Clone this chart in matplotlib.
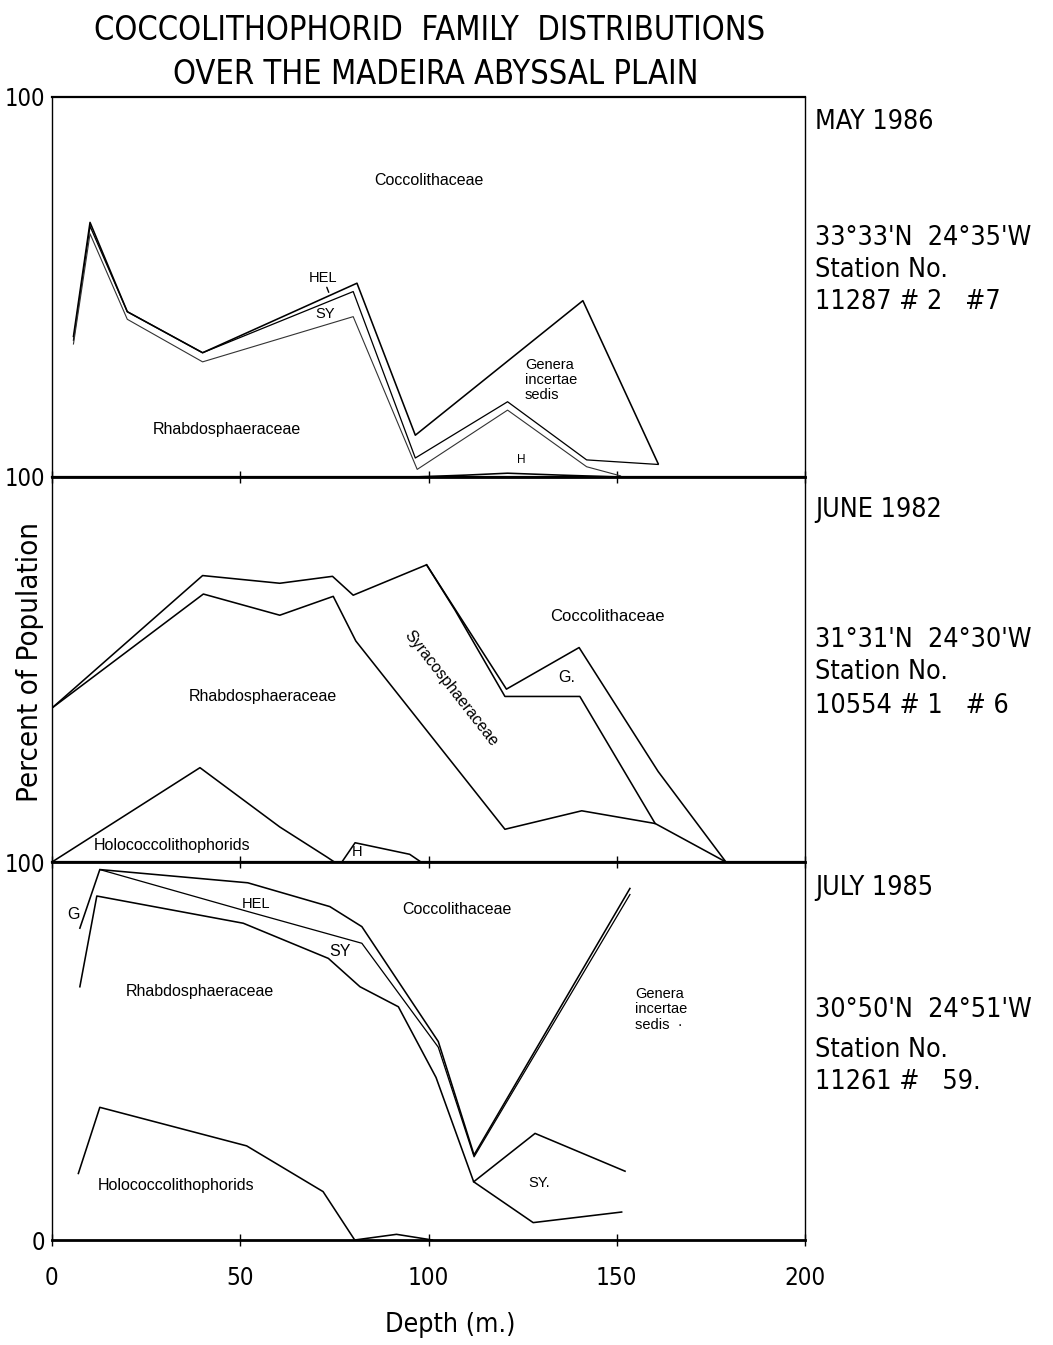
import matplotlib
matplotlib.use("Agg")
import matplotlib.pyplot as plt
from matplotlib import font_manager
from matplotlib.font_manager import FontProperties

# ---------------- data (depth in m, cumulative percent boundaries) ----------------
# Panel 1: May 1986
may_top_x = [5.7, 10.1, 20, 40, 81, 96.5, 141, 161]
may_top_y = [37, 67, 43.5, 32.7, 51, 11, 46.4, 3.5]
may_hel_x = [5.7, 10.1, 20, 40, 80, 96.5, 121, 142, 161]
may_hel_y = [36, 66, 43.5, 32.7, 48.8, 5, 19.8, 4.5, 3.3]
may_sy_x = [5.7, 10.1, 20, 40, 80, 97, 121, 142, 151]
may_sy_y = [35, 64, 41.5, 30.3, 42.2, 2, 17.6, 2.7, 0.3]
may_h_x = [96, 110, 121, 135, 151]
may_h_y = [0, 0.5, 1.0, 0.5, 0]

# Panel 2: June 1982
jun_top_x = [0, 40, 60.5, 74.5, 80, 99.5, 120.7, 140, 161, 179]
jun_top_y = [40, 74.4, 72.4, 74.2, 69.3, 77.2, 44.9, 55.7, 23.5, 0]
jun_g_x = [99.5, 107, 120.3, 140.2, 160.2]
jun_g_y = [77.2, 65.5, 43, 43, 10]
jun_sya_x = [0, 40.2, 60.5, 74.7, 80.7, 120.3, 140.7, 160.2, 179]
jun_sya_y = [40, 69.6, 64.1, 69, 57.4, 8.5, 13.3, 10, 0]
jun_holo_x = [0, 39.3, 60.5, 73, 75]
jun_holo_y = [0, 24.5, 9.1, 1.3, 0]
jun_h_x = [77, 80.5, 95, 98]
jun_h_y = [0, 5, 2, 0]

# Panel 3: July 1985
jul_top_x = [7.4, 12.7, 52, 73.8, 82.3, 102.6, 112.1, 153.5]
jul_top_y = [82.5, 98, 94.5, 88.2, 82.9, 52.5, 22.5, 93]
jul_hel_x = [12.7, 52, 82.3, 102.6, 112.1, 153.5]
jul_hel_y = [98, 86.9, 78.5, 51, 22, 91.4]
jul_sy_x = [7.4, 11.9, 50.8, 73.4, 81.8, 92, 102, 112, 128.3, 152.2]
jul_sy_y = [67, 91, 83.8, 74.5, 67, 61.7, 43, 15.4, 28.2, 18.2]
jul_sylow_x = [112, 127.8, 151.3]
jul_sylow_y = [15.4, 4.6, 7.4]
jul_holo_x = [7, 12.7, 51.7, 72, 80.4]
jul_holo_y = [17.6, 35.1, 24.9, 12.8, 0]
jul_h_x = [80.4, 91.5, 101]
jul_h_y = [0, 1.5, 0]

x_ticks = [0, 50, 100, 150, 200]

months = ["MAY 1986", "JUNE 1982", "JULY 1985"]
coords = ["33°33'N  24°35'W", "31°31'N  24°30'W", "30°50'N  24°51'W"]
stations = ["11287 # 2   #7", "10554 # 1   # 6", "11261 #   59."]

# ---------------- fonts ----------------
cond_path = None
for f in font_manager.fontManager.ttflist:
    st = str(f.stretch).lower()
    if f.style == "normal" and st in ("condensed", "semi-condensed") and \
            f.weight in (400, "normal", "regular", "book"):
        if f.name in ("DejaVu Sans", "Noto Sans", "Liberation Sans Narrow", "Open Sans", "Roboto"):
            cond_path = f.fname
            if f.name == "DejaVu Sans":
                break
if cond_path:
    def BIG(size):
        return FontProperties(fname=cond_path, size=size * 1.12)
else:
    def BIG(size):
        return FontProperties(family="DejaVu Sans", size=size * 0.92)

SMALL = "Liberation Sans"
plt.rcParams["font.family"] = [SMALL, "DejaVu Sans"]

W, H = 1053, 1345
fig = plt.figure(figsize=(W / 100, H / 100), dpi=100)

left_px, right_px = 52, 805
panels_px = [(97, 477), (477, 862), (862, 1240)]
axes = []
for top, bot in panels_px:
    ax = fig.add_axes([left_px / W, 1 - bot / H, (right_px - left_px) / W, (bot - top) / H])
    ax.set_xlim(0, 200)
    ax.set_ylim(0, 100)
    ax.set_xticks(x_ticks)
    ax.tick_params(axis="x", direction="inout", length=9, width=1, labelbottom=False)
    ax.tick_params(axis="y", length=0, pad=5)
    ax.spines["left"].set_linewidth(1.0)
    ax.spines["right"].set_linewidth(1.0)
    ax.spines["bottom"].set_linewidth(2.0)
    ax.spines["top"].set_linewidth(1.6)
    ax.patch.set_alpha(0)
    axes.append(ax)

lw = 1.15
col = "black"
fs = 11.5
YT = 15.2

# Panel 1
ax = axes[0]
ax.set_yticks([100])
ax.set_yticklabels(["100"], fontproperties=BIG(YT))
ax.plot(may_top_x, may_top_y, color=col, lw=lw)
ax.plot(may_hel_x, may_hel_y, color=col, lw=lw * 0.8)
ax.plot(may_sy_x, may_sy_y, color="#333333", lw=lw * 0.7)
ax.plot(may_h_x, may_h_y, color=col, lw=lw)
ax.text(100, 78, "Coccolithaceae", ha="center", va="center", fontsize=fs)
ax.annotate("HEL", xy=(73.5, 48.6), xytext=(72, 52.5), ha="center", va="center",
            fontsize=10.5, arrowprops=dict(arrowstyle="-", lw=1, shrinkA=5, shrinkB=0))
ax.text(72.5, 43, "SY", ha="center", va="center", fontsize=10.5)
ax.text(46.4, 12.4, "Rhabdosphaeraceae", ha="center", va="center", fontsize=fs)
ax.text(125.6, 25.5, "Genera\nincertae\nsedis", ha="left", va="center", fontsize=10.5,
        linespacing=1.1)
ax.text(124.7, 4.5, "H", ha="center", va="center", fontsize=8.5)

# Panel 2
ax = axes[1]
ax.set_yticks([100])
ax.set_yticklabels(["100"], fontproperties=BIG(YT))
ax.plot(jun_top_x, jun_top_y, color=col, lw=lw)
ax.plot(jun_g_x, jun_g_y, color=col, lw=lw)
ax.plot(jun_sya_x, jun_sya_y, color=col, lw=lw)
ax.plot(jun_holo_x, jun_holo_y, color=col, lw=lw)
ax.plot(jun_h_x, jun_h_y, color=col, lw=lw)
ax.text(56, 43, "Rhabdosphaeraceae", ha="center", va="center", fontsize=fs)
ax.text(31.8, 4.2, "Holococcolithophorids", ha="center", va="center", fontsize=fs)
ax.text(81, 2.5, "H", ha="center", va="center", fontsize=10.5)
ax.text(147.5, 63.7, "Coccolithaceae", ha="center", va="center", fontsize=fs + 0.5)
ax.text(136.8, 48, "G.", ha="center", va="center", fontsize=fs)
ax.text(106, 45, "Syracosphaeraceae", ha="center", va="center", fontsize=fs,
        rotation=-52, rotation_mode="anchor")

# Panel 3
ax = axes[2]
ax.set_yticks([0, 100])
ax.set_yticklabels(["0", "100"], fontproperties=BIG(YT))
ax.tick_params(axis="x", labelbottom=True, pad=14)
ax.set_xticklabels([str(t) for t in x_ticks], fontproperties=BIG(15.5))
ax.plot(jul_top_x, jul_top_y, color=col, lw=lw)
ax.plot(jul_hel_x, jul_hel_y, color=col, lw=lw * 0.8)
ax.plot(jul_sy_x, jul_sy_y, color=col, lw=lw)
ax.plot(jul_sylow_x, jul_sylow_y, color=col, lw=lw)
ax.plot(jul_holo_x, jul_holo_y, color=col, lw=lw)
ax.plot(jul_h_x, jul_h_y, color=col, lw=lw)
ax.text(5.7, 86, "G", ha="center", va="center", fontsize=fs)
ax.text(54.2, 89, "HEL", ha="center", va="center", fontsize=10.5)
ax.text(107.5, 87.5, "Coccolithaceae", ha="center", va="center", fontsize=fs)
ax.text(76.5, 76.3, "SY", ha="center", va="center", fontsize=fs)
ax.text(39.3, 65.7, "Rhabdosphaeraceae", ha="center", va="center", fontsize=fs)
ax.text(33, 14.5, "Holococcolithophorids", ha="center", va="center", fontsize=fs)
ax.text(129.5, 15, "SY.", ha="center", va="center", fontsize=10.5)
ax.text(154.9, 61, "Genera\nincertae\nsedis  ·", ha="left", va="center", fontsize=10.5,
        linespacing=1.1)

# Right side annotations
RS = 17.2
rx = 815 / W
month_y = [122, 510, 888]
coord_y = [238, 640, 1010]
stat_y = [270, 672, 1050]
num_y = [302, 706, 1082]
for i in range(3):
    fig.text(rx, 1 - month_y[i] / H, months[i], fontproperties=BIG(RS), va="center")
    fig.text(rx, 1 - coord_y[i] / H, coords[i], fontproperties=BIG(RS), va="center")
    fig.text(rx, 1 - stat_y[i] / H, "Station No.", fontproperties=BIG(RS), va="center")
    fig.text(rx, 1 - num_y[i] / H, stations[i], fontproperties=BIG(RS), va="center")

# Title, axis labels
fig.text(430 / W, 1 - 30 / H, "COCCOLITHOPHORID  FAMILY  DISTRIBUTIONS",
         fontproperties=BIG(20.9), ha="center", va="center")
fig.text(436 / W, 1 - 75 / H, "OVER THE MADEIRA ABYSSAL PLAIN",
         fontproperties=BIG(20.9), ha="center", va="center")
fig.text(30 / W, 1 - 662 / H, "Percent of Population", fontproperties=BIG(18.8),
         rotation=90, ha="center", va="center")
fig.text(450 / W, 1 - 1325 / H, "Depth (m.)", fontproperties=BIG(17.2),
         ha="center", va="center")

fig.savefig("out.png", dpi=100, facecolor="white")
